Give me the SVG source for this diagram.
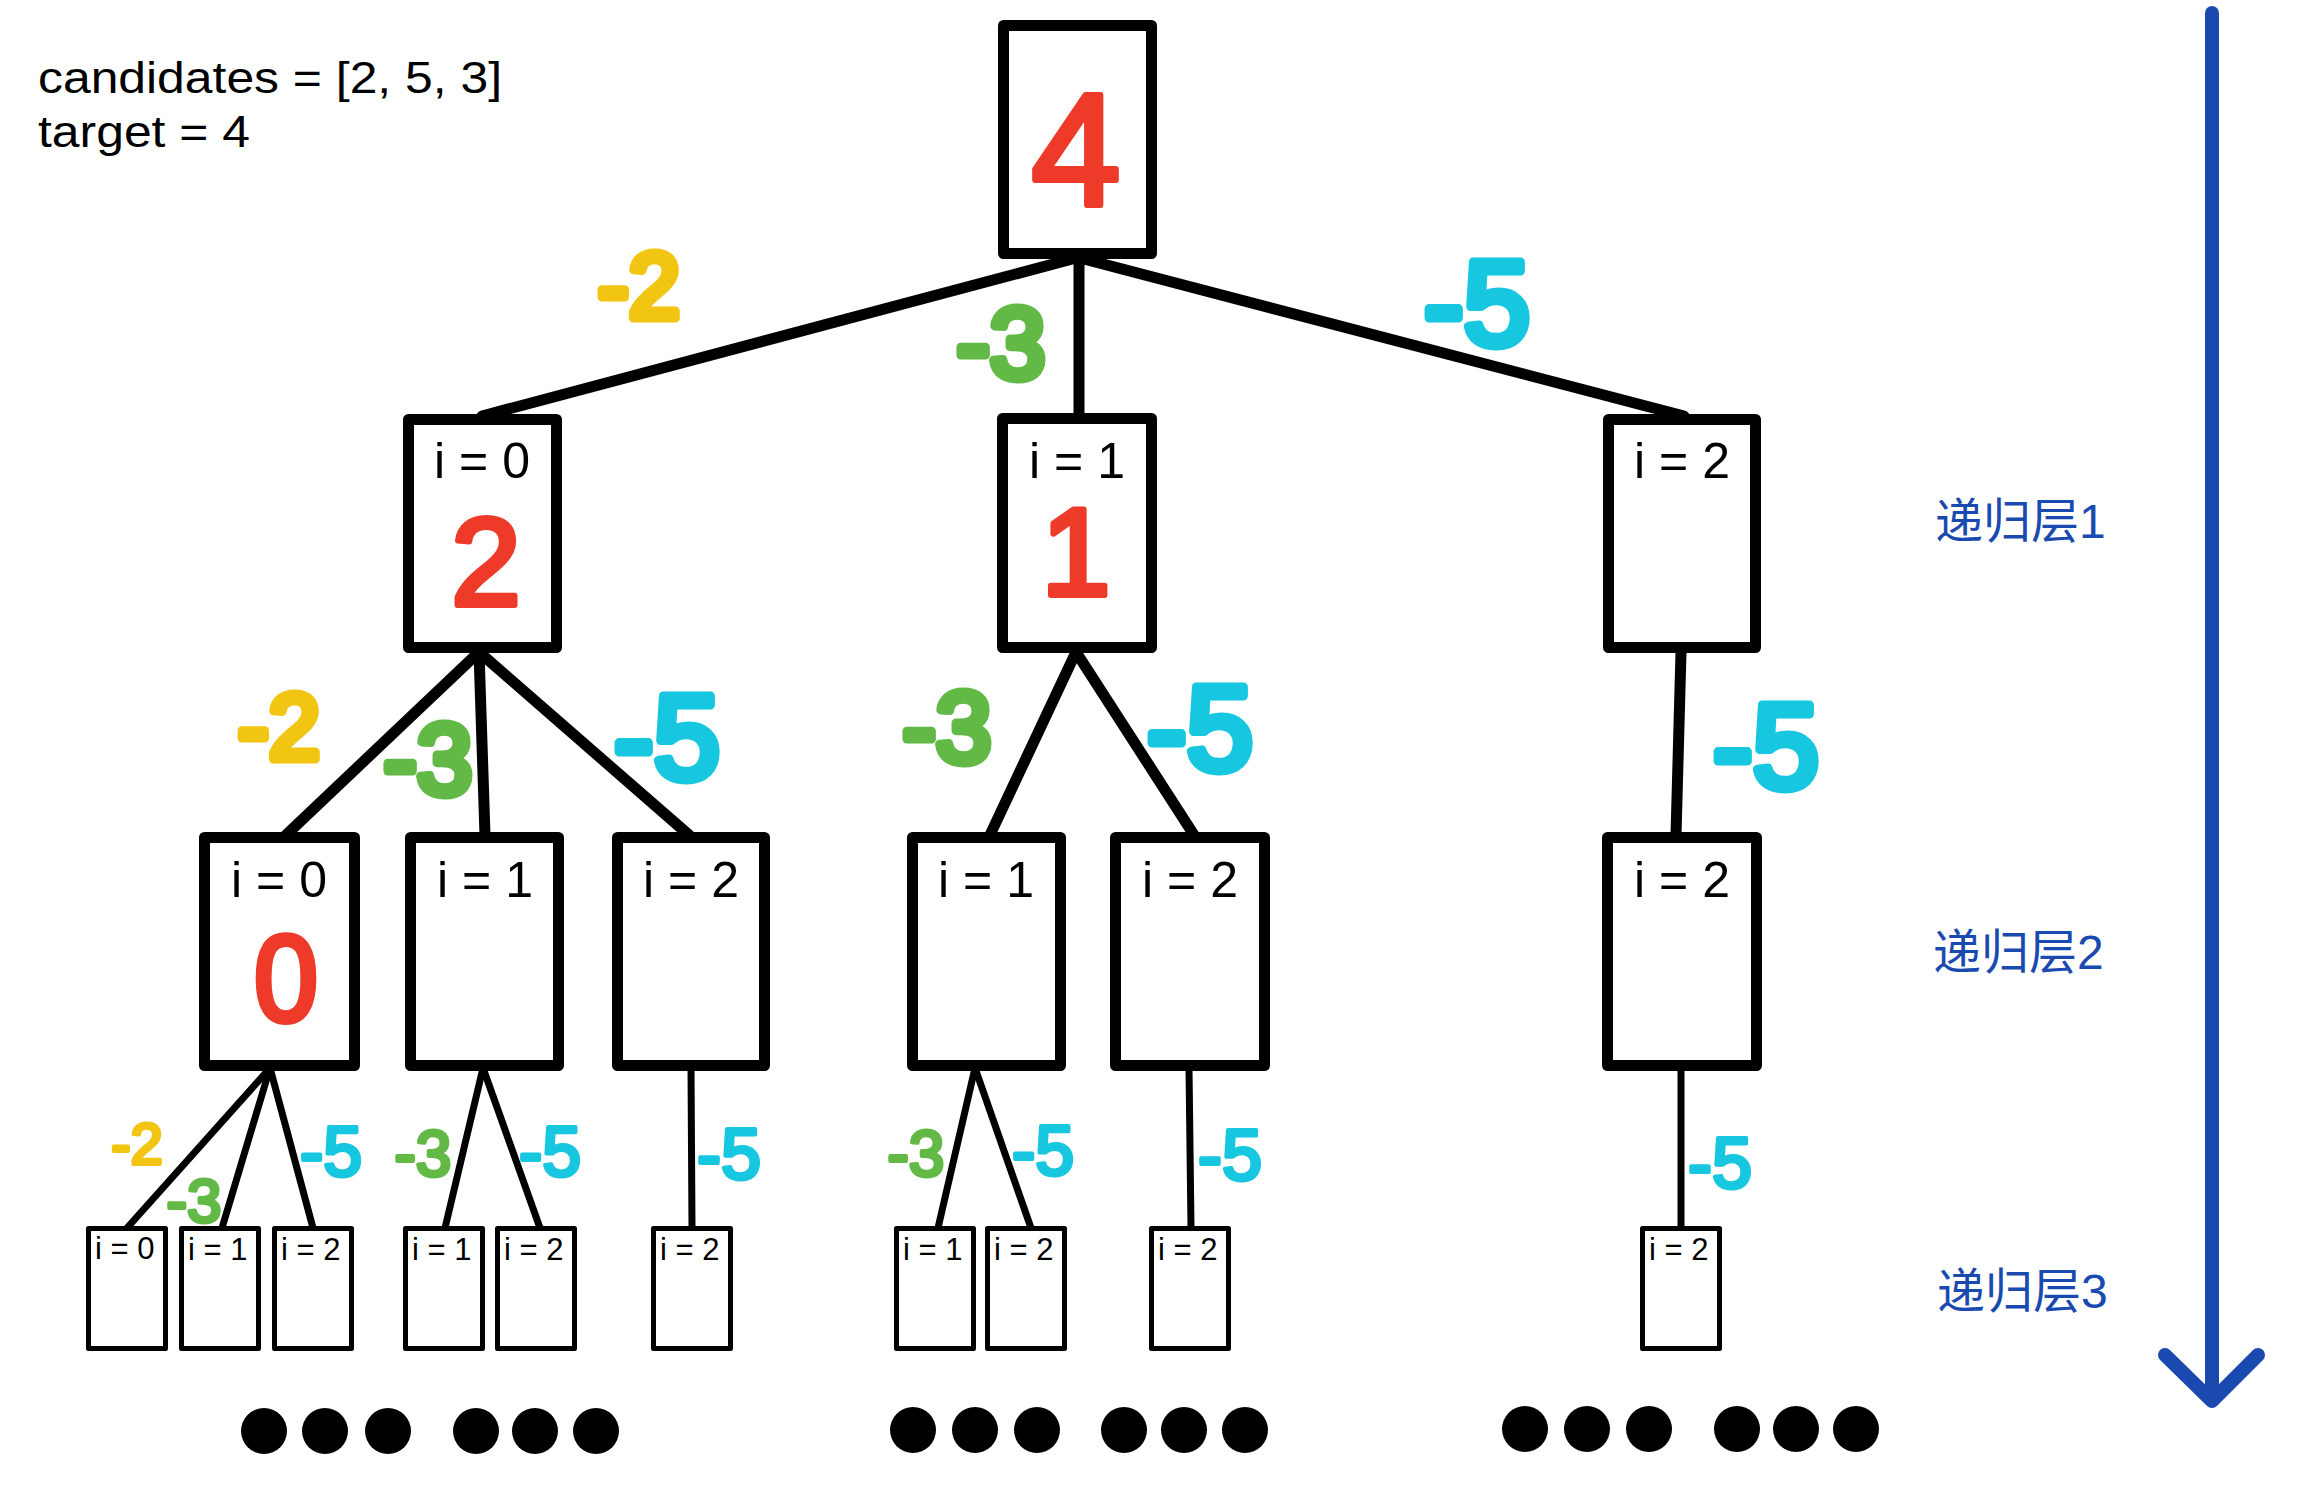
<svg xmlns="http://www.w3.org/2000/svg" width="2300" height="1498" viewBox="0 0 2300 1498">
<style>
.big{fill:#fff;stroke:#000;stroke-width:11;stroke-linejoin:round}
.small{fill:#fff;stroke:#000;stroke-width:5;stroke-linejoin:round}
.lbl{font-family:"Liberation Sans",Arial,sans-serif;font-size:50px;fill:#000;text-anchor:middle}
.slbl{font-family:"Liberation Sans",Arial,sans-serif;font-size:31px;fill:#000}
.info{font-family:"Liberation Sans",Arial,sans-serif;font-size:45px;fill:#000}
.hw{font-family:"Liberation Sans",Arial,sans-serif;text-anchor:middle;stroke-linejoin:round;stroke-linecap:round}
.red{fill:#EE3A29;stroke:#EE3A29;stroke-width:6}
.ye{fill:#F2C512;stroke:#F2C512}
.gr{fill:#62B946;stroke:#62B946}
.cy{fill:#17C7E0;stroke:#17C7E0}
.m{stroke-width:9}
.s{stroke-width:4}
.c1{stroke:#000;stroke-width:11;stroke-linecap:round;fill:none}
.c2{stroke:#000;stroke-width:7;stroke-linecap:round;fill:none}
.blue{font-family:"Liberation Sans","Noto Sans CJK SC",sans-serif;font-size:48px;fill:#1A4AB0}
.dot{fill:#000}
</style>

<g id="info">
<text class="info" x="38" y="93" textLength="464" lengthAdjust="spacingAndGlyphs">candidates = [2, 5, 3]</text>
<text class="info" x="38" y="147" textLength="212" lengthAdjust="spacingAndGlyphs">target = 4</text>
</g>

<g id="connectors">
<line class="c1" x1="1076" y1="258" x2="482" y2="416"/>
<line class="c1" x1="1079" y1="258" x2="1079" y2="416"/>
<line class="c1" x1="1080" y1="258" x2="1684" y2="416"/>
<line class="c1" x1="479" y1="652" x2="286" y2="835"/>
<line class="c1" x1="479" y1="652" x2="485" y2="835"/>
<line class="c1" x1="479" y1="652" x2="689" y2="835"/>
<line class="c1" x1="1076" y1="652" x2="990" y2="835"/>
<line class="c1" x1="1076" y1="652" x2="1194" y2="835"/>
<line class="c1" x1="1681" y1="652" x2="1676" y2="835"/>
<line class="c2" x1="270" y1="1068" x2="127" y2="1228"/>
<line class="c2" x1="270" y1="1068" x2="222" y2="1228"/>
<line class="c2" x1="270" y1="1068" x2="313" y2="1228"/>
<line class="c2" x1="483" y1="1068" x2="445" y2="1228"/>
<line class="c2" x1="483" y1="1068" x2="540" y2="1228"/>
<line class="c2" x1="691" y1="1068" x2="692" y2="1228"/>
<line class="c2" x1="975" y1="1068" x2="938" y2="1228"/>
<line class="c2" x1="975" y1="1068" x2="1031" y2="1228"/>
<line class="c2" x1="1189" y1="1068" x2="1191" y2="1228"/>
<line class="c2" x1="1681" y1="1068" x2="1681" y2="1228"/>
</g>

<g id="edge-labels">
<text class="hw ye m" x="639" y="318" font-size="92">-2</text>
<text class="hw gr m" x="1001" y="378" font-size="100">-3</text>
<text class="hw cy m" x="1477" y="345" font-size="120">-5</text>
<text class="hw ye m" x="279" y="759" font-size="92">-2</text>
<text class="hw gr m" x="428" y="794" font-size="100">-3</text>
<text class="hw cy m" x="667" y="779" font-size="120">-5</text>
<text class="hw gr m" x="947" y="762" font-size="100">-3</text>
<text class="hw cy m" x="1200" y="770" font-size="120">-5</text>
<text class="hw cy m" x="1766" y="788" font-size="120">-5</text>
<text class="hw ye s" x="137" y="1164" font-size="58">-2</text>
<text class="hw gr s" x="194" y="1222" font-size="62">-3</text>
<text class="hw cy s" x="331" y="1176" font-size="70">-5</text>
<text class="hw gr s" x="423" y="1176" font-size="64">-3</text>
<text class="hw cy s" x="550" y="1176" font-size="70">-5</text>
<text class="hw cy s" x="729" y="1179" font-size="72">-5</text>
<text class="hw gr s" x="916" y="1176" font-size="64">-3</text>
<text class="hw cy s" x="1043" y="1175" font-size="70">-5</text>
<text class="hw cy s" x="1230" y="1180" font-size="72">-5</text>
<text class="hw cy s" x="1720" y="1188" font-size="72">-5</text>
</g>

<g id="root">
<rect class="big" x="1003.5" y="25.5" width="148" height="228"/>
<text class="hw red" x="1076" y="205" font-size="160">4</text>
</g>

<g id="n1-0">
<rect class="big" x="408.5" y="419.5" width="148" height="228"/>
<text class="lbl" x="482" y="478">i = 0</text>
<text class="hw red" x="486" y="605" font-size="125">2</text>
</g>
<g id="n1-1">
<rect class="big" x="1002.5" y="418.5" width="149" height="229"/>
<text class="lbl" x="1077" y="478">i = 1</text>
<text class="hw red" x="1076" y="595" font-size="124">1</text>
</g>
<g id="n1-2">
<rect class="big" x="1608.5" y="419.5" width="147" height="228"/>
<text class="lbl" x="1682" y="478">i = 2</text>
</g>

<g id="n2-0">
<rect class="big" x="204.5" y="837.5" width="150" height="228"/>
<text class="lbl" x="279" y="897">i = 0</text>
<text class="hw red" x="286" y="1021" font-size="122" textLength="64" lengthAdjust="spacingAndGlyphs">0</text>
</g>
<g id="n2-1">
<rect class="big" x="410.5" y="837.5" width="148" height="228"/>
<text class="lbl" x="485" y="897">i = 1</text>
</g>
<g id="n2-2">
<rect class="big" x="617.5" y="837.5" width="147" height="228"/>
<text class="lbl" x="691" y="897">i = 2</text>
</g>
<g id="n2-3">
<rect class="big" x="912.5" y="837.5" width="148" height="228"/>
<text class="lbl" x="986" y="897">i = 1</text>
</g>
<g id="n2-4">
<rect class="big" x="1115.5" y="837.5" width="149" height="228"/>
<text class="lbl" x="1190" y="897">i = 2</text>
</g>
<g id="n2-5">
<rect class="big" x="1607.5" y="837.5" width="149" height="228"/>
<text class="lbl" x="1682" y="897">i = 2</text>
</g>

<g id="n3-0"><rect class="small" x="88.5" y="1228.5" width="77" height="120"/><text class="slbl" x="95" y="1259">i = 0</text></g>
<g id="n3-1"><rect class="small" x="181.5" y="1228.5" width="77" height="120"/><text class="slbl" x="188" y="1260">i = 1</text></g>
<g id="n3-2"><rect class="small" x="274.5" y="1228.5" width="77" height="120"/><text class="slbl" x="281" y="1260">i = 2</text></g>
<g id="n3-3"><rect class="small" x="405.5" y="1228.5" width="77" height="120"/><text class="slbl" x="412" y="1260">i = 1</text></g>
<g id="n3-4"><rect class="small" x="497.5" y="1228.5" width="77" height="120"/><text class="slbl" x="504" y="1260">i = 2</text></g>
<g id="n3-5"><rect class="small" x="653.5" y="1228.5" width="77" height="120"/><text class="slbl" x="660" y="1260">i = 2</text></g>
<g id="n3-6"><rect class="small" x="896.5" y="1228.5" width="77" height="120"/><text class="slbl" x="903" y="1260">i = 1</text></g>
<g id="n3-7"><rect class="small" x="987.5" y="1228.5" width="77" height="120"/><text class="slbl" x="994" y="1260">i = 2</text></g>
<g id="n3-8"><rect class="small" x="1151.5" y="1228.5" width="77" height="120"/><text class="slbl" x="1158" y="1260">i = 2</text></g>
<g id="n3-9"><rect class="small" x="1642.5" y="1228.5" width="77" height="120"/><text class="slbl" x="1649" y="1260">i = 2</text></g>

<g id="ellipsis">
<circle class="dot" cx="264" cy="1431" r="23"/><circle class="dot" cx="325" cy="1431" r="23"/><circle class="dot" cx="388" cy="1431" r="23"/>
<circle class="dot" cx="476" cy="1431" r="23"/><circle class="dot" cx="535" cy="1431" r="23"/><circle class="dot" cx="596" cy="1431" r="23"/>
<circle class="dot" cx="913" cy="1430" r="23"/><circle class="dot" cx="975" cy="1430" r="23"/><circle class="dot" cx="1037" cy="1430" r="23"/>
<circle class="dot" cx="1124" cy="1430" r="23"/><circle class="dot" cx="1184" cy="1430" r="23"/><circle class="dot" cx="1245" cy="1430" r="23"/>
<circle class="dot" cx="1525" cy="1429" r="23"/><circle class="dot" cx="1587" cy="1429" r="23"/><circle class="dot" cx="1649" cy="1429" r="23"/>
<circle class="dot" cx="1737" cy="1429" r="23"/><circle class="dot" cx="1796" cy="1429" r="23"/><circle class="dot" cx="1856" cy="1429" r="23"/>
</g>

<g id="depth-arrow">
<line x1="2212" y1="13" x2="2212" y2="1398" stroke="#1A4AB0" stroke-width="14" stroke-linecap="round"/>
<polyline points="2165,1355 2212,1401 2258,1355" fill="none" stroke="#1A4AB0" stroke-width="14" stroke-linecap="round" stroke-linejoin="round"/>
</g>

<g id="levels">
<text class="blue" x="1935" y="538">递归层1</text>
<text class="blue" x="1933" y="969">递归层2</text>
<text class="blue" x="1937" y="1308">递归层3</text>
</g>
</svg>
